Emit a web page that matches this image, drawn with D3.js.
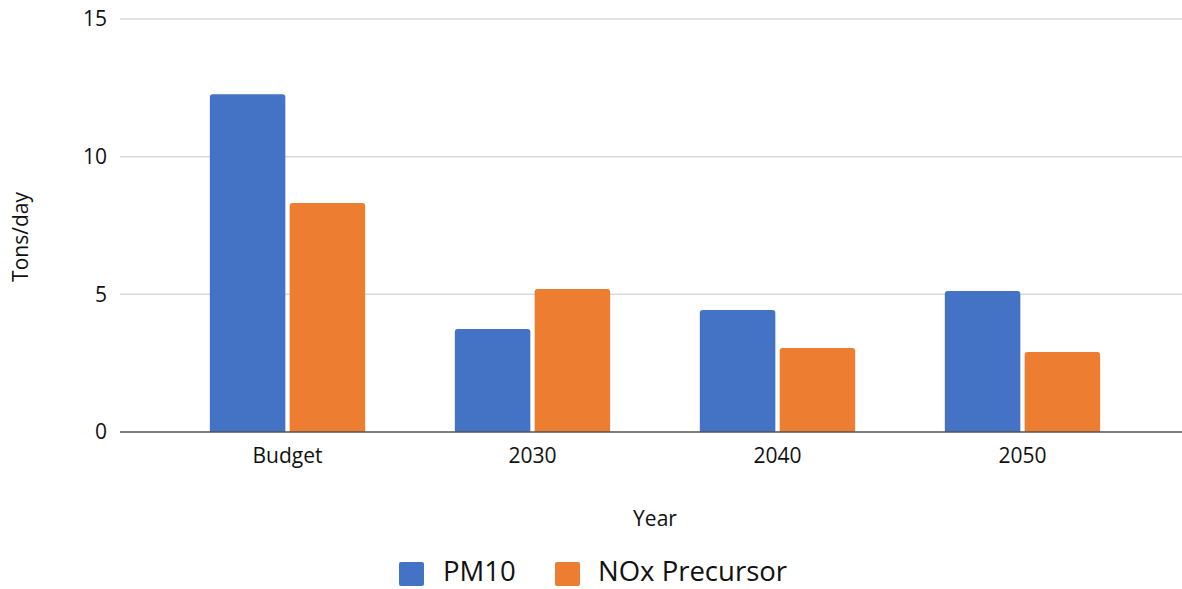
<!DOCTYPE html>
<html>
<head>
<meta charset="utf-8">
<script src="https://cdn.jsdelivr.net/npm/d3@7"></script>
<style>
  html, body { margin: 0; padding: 0; background: #fff; }
  svg { display: block; font-family: "Open Sans", "Noto Sans", sans-serif; }
</style>
</head>
<body>
<svg id="chart" width="1182" height="589"></svg>
<script>
// Emissions by scenario year
const categories = ["Budget", "2030", "2040", "2050"];
const seriesNames = ["PM10", "NOx Precursor"];
const pm10 = [12.27, 3.74, 4.43, 5.12];
const noxPrecursor = [8.32, 5.19, 3.05, 2.91];
const yTicks = [0, 5, 10, 15];

const colors = { "PM10": "#4472C4", "NOx Precursor": "#ED7D31" };
const values = { "PM10": pm10, "NOx Precursor": noxPrecursor };
const textColor = "#111";

const svg = d3.select("#chart");
const plot = { left: 120, right: 1182, top: 19, bottom: 432 };

const y = d3.scaleLinear().domain([0, 15]).range([plot.bottom, plot.top]);
const x0 = d3.scaleBand().domain(categories).range([165, 1145]).padding(0);
const groupW = x0.bandwidth() * 0.634;
const x1 = d3.scaleBand().domain(seriesNames).range([0, groupW]).paddingInner(0.054).paddingOuter(0);

// Gridlines
svg.append("g")
  .selectAll("line")
  .data(yTicks.filter(d => d > 0))
  .join("line")
  .attr("x1", plot.left).attr("x2", plot.right)
  .attr("y1", d => y(d)).attr("y2", d => y(d))
  .attr("stroke", "#d9d9d9").attr("stroke-width", 1.5);

// Y axis tick labels
const yAxis = d3.axisLeft(y).tickValues(yTicks).tickSize(0).tickPadding(0);
const gy = svg.append("g").attr("transform", `translate(107,0)`).call(yAxis);
gy.select(".domain").remove();
gy.selectAll("text")
  .attr("font-size", 21).attr("fill", textColor)
  .attr("font-family", "'Open Sans', sans-serif");

// Bars with slightly rounded top corners
function barPath(x, yTop, w, yBase, r) {
  const rr = Math.min(r, w / 2, Math.max(0, yBase - yTop));
  return `M${x},${yBase}V${yTop + rr}Q${x},${yTop} ${x + rr},${yTop}H${x + w - rr}Q${x + w},${yTop} ${x + w},${yTop + rr}V${yBase}Z`;
}

const groups = svg.append("g").selectAll("g")
  .data(categories)
  .join("g")
  .attr("transform", d => `translate(${x0(d) + (x0.bandwidth() - groupW) / 2},0)`);

groups.selectAll("path")
  .data((c, i) => seriesNames.map(s => ({ s, v: values[s][i] })))
  .join("path")
  .attr("d", d => barPath(x1(d.s), y(d.v), x1.bandwidth(), y(0), 3))
  .attr("fill", d => colors[d.s]);

// Baseline
svg.append("line")
  .attr("x1", plot.left).attr("x2", plot.right)
  .attr("y1", y(0)).attr("y2", y(0))
  .attr("stroke", "#555").attr("stroke-width", 1.5);

// X axis labels
const xAxis = d3.axisBottom(x0).tickSize(0).tickPadding(0);
const gx = svg.append("g").attr("transform", `translate(0,${y(0)})`).call(xAxis);
gx.select(".domain").remove();
gx.selectAll("text")
  .attr("font-size", 21).attr("fill", textColor)
  .attr("font-family", "'Open Sans', sans-serif")
  .attr("dy", null).attr("y", 31);

// Axis titles
svg.append("text")
  .attr("x", 655).attr("y", 526)
  .attr("text-anchor", "middle")
  .attr("font-size", 21).attr("fill", textColor)
  .text("Year");

svg.append("text")
  .attr("transform", "translate(28,237) rotate(-90)")
  .attr("text-anchor", "middle")
  .attr("font-size", 21).attr("fill", textColor)
  .text("Tons/day");

// Legend
const legendItems = [
  { s: "PM10", x: 399, tx: 443 },
  { s: "NOx Precursor", x: 555, tx: 598 }
];
const lg = svg.append("g");
lg.selectAll("rect")
  .data(legendItems)
  .join("rect")
  .attr("x", d => d.x).attr("y", 562)
  .attr("width", 25).attr("height", 24)
  .attr("rx", 2)
  .attr("fill", d => colors[d.s]);
lg.selectAll("text")
  .data(legendItems)
  .join("text")
  .attr("x", d => d.tx).attr("y", 581)
  .attr("font-size", 27.5).attr("fill", textColor)
  .text(d => d.s);
</script>
</body>
</html>
